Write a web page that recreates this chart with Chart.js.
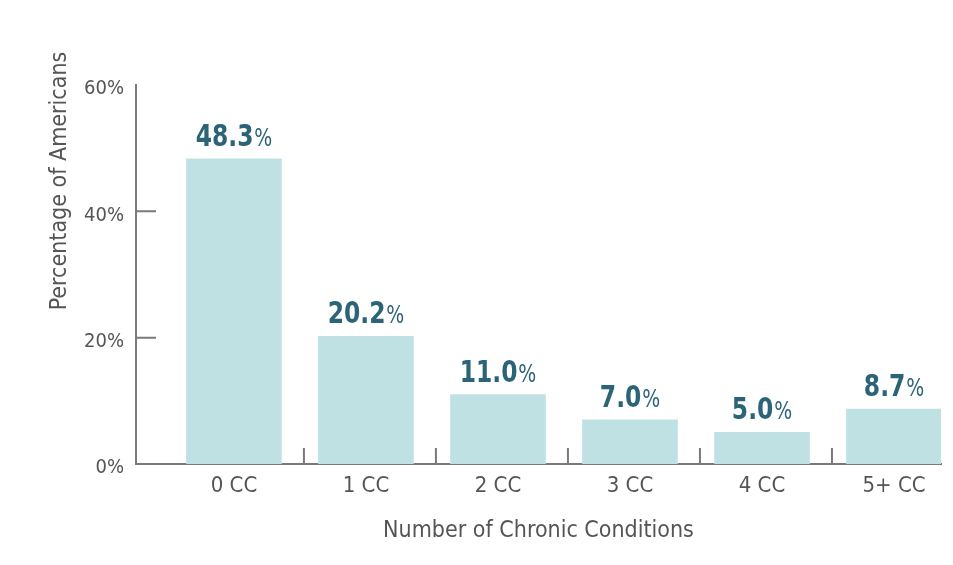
<!DOCTYPE html>
<html>
<head>
<meta charset="utf-8">
<script src="https://cdn.jsdelivr.net/npm/chart.js@4.4.0/dist/chart.umd.min.js"></script>
<style>
  html, body { margin: 0; padding: 0; background: #fff; }
  #wrap { width: 953px; height: 565px; position: relative; }
</style>
</head>
<body>
<div id="wrap"><canvas id="c"></canvas></div>
<script>
const categories = ['0 CC', '1 CC', '2 CC', '3 CC', '4 CC', '5+ CC']
const percents = [48.3, 20.2, 11.0, 7.0, 5.0, 8.7]
const yTicks = [0, 20, 40, 60]

const font = '"DejaVu Sans Condensed", "Liberation Sans Narrow", sans-serif'
const axisGray = '#7a7a7a'
const textGray = '#555'

// value labels above bars: bold number + smaller %, squeezed a bit to look condensed
const barLabels = {
  id: 'barLabels',
  afterDatasetsDraw(chart) {
    const ctx = chart.ctx
    const meta = chart.getDatasetMeta(0)
    const sx = 0.84
    ctx.save()
    ctx.fillStyle = '#2b6377'
    ctx.textBaseline = 'alphabetic'
    ctx.textAlign = 'left'
    meta.data.forEach((bar, i) => {
      const num = percents[i].toFixed(1)
      ctx.font = 'bold 31px ' + font
      const w1 = ctx.measureText(num).width
      ctx.font = '25px ' + font
      const w2 = ctx.measureText('%').width
      const total = (w1 + w2 + 1) * sx
      const y = bar.y - 13
      ctx.save()
      ctx.translate(bar.x - total / 2, y)
      ctx.scale(sx, 1)
      ctx.font = 'bold 31px ' + font
      ctx.fillText(num, 0, 0)
      ctx.font = '25px ' + font
      ctx.fillText('%', w1 + 1, 0)
      ctx.restore()
    })
    ctx.restore()
  }
}

// small inside tick marks + rotated y title
const axisMarks = {
  id: 'axisMarks',
  afterDraw(chart) {
    const ctx = chart.ctx
    const xs = chart.scales.x
    const ys = chart.scales.y
    const area = chart.chartArea
    ctx.save()
    ctx.strokeStyle = axisGray
    ctx.lineWidth = 2
    ctx.beginPath()
    ;[20, 40].forEach(v => {
      const y = ys.getPixelForValue(v)
      ctx.moveTo(area.left, y)
      ctx.lineTo(area.left + 20, y)
    })
    for (let i = 0; i < categories.length - 1; i++) {
      const x = xs.getPixelForValue(i + 0.53)
      ctx.moveTo(x, area.bottom)
      ctx.lineTo(x, area.bottom - 16)
    }
    ctx.stroke()

    ctx.translate(60, 181)
    ctx.rotate(-Math.PI / 2)
    ctx.fillStyle = textGray
    ctx.font = '23px ' + font
    ctx.textAlign = 'center'
    ctx.textBaseline = 'middle'
    ctx.fillText('Percentage of Americans', 0, 0)
    ctx.restore()
  }
}

new Chart(document.getElementById('c'), {
  type: 'bar',
  data: {
    datasets: [{
      data: percents.map((v, i) => ({ x: i, y: v })),
      backgroundColor: '#bfe1e4',
      borderWidth: 0,
      barThickness: 95
    }]
  },
  options: {
    responsive: true,
    maintainAspectRatio: false,
    animation: false,
    layout: { padding: { top: 85, right: 12, left: 0, bottom: 0 } },
    plugins: { legend: { display: false }, tooltip: { enabled: false } },
    scales: {
      x: {
        type: 'linear',
        offset: false,
        min: -0.742,
        max: 5.356,
        afterBuildTicks: s => { s.ticks = categories.map((c, i) => ({ value: i })) },
        afterFit: s => { s.height = 101 },
        grid: { display: false, drawTicks: false, offset: false },
        border: { display: true, color: axisGray, width: 2 },
        ticks: {
          autoSkip: false,
          maxRotation: 0,
          padding: 9,
          color: textGray,
          font: { family: font, size: 22 },
          callback: v => categories[v]
        },
        title: {
          display: true,
          text: 'Number of Chronic Conditions',
          color: textGray,
          font: { family: font, size: 23 },
          padding: { top: 4, bottom: 20 }
        }
      },
      y: {
        min: 0,
        max: 60,
        afterBuildTicks: s => { s.ticks = yTicks.map(v => ({ value: v })) },
        afterFit: s => { s.width = 136 },
        grid: { display: false, drawTicks: false },
        border: { display: true, color: axisGray, width: 2 },
        ticks: {
          padding: 12,
          labelOffset: 4,
          color: textGray,
          font: { family: font, size: 20 },
          callback: v => v + '%'
        }
      }
    }
  },
  plugins: [barLabels, axisMarks]
})
</script>
</body>
</html>
